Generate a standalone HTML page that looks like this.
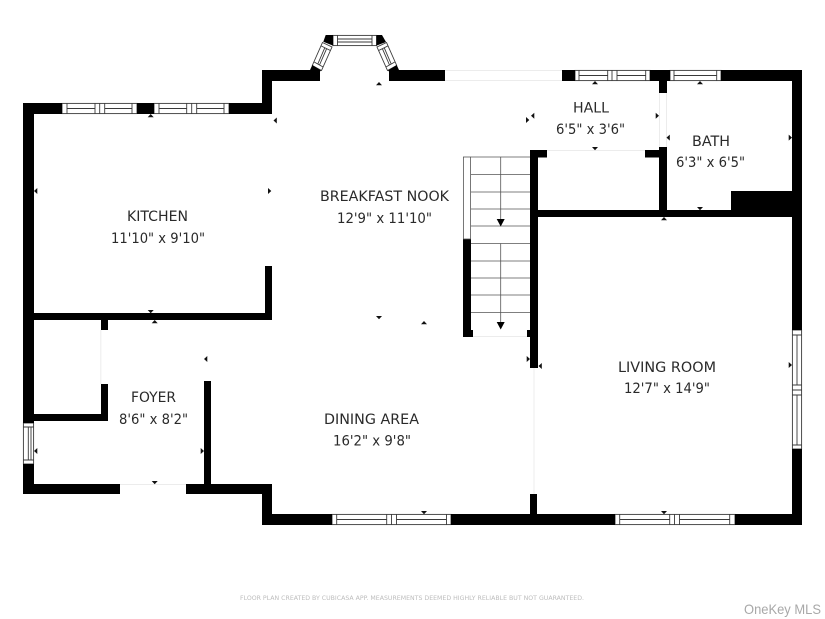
<!DOCTYPE html>
<html lang="en">
<head>
<meta charset="utf-8">
<title>Floor plan</title>
<style>
html,body{margin:0;padding:0;background:#fff;width:825px;height:619px;overflow:hidden}
svg{display:block}
text{font-family:"DejaVu Sans","Liberation Sans",sans-serif;font-size:14.5px;fill:#2a2a2a}
</style>
</head>
<body>
<svg width="825" height="619" viewBox="0 0 825 619" xmlns="http://www.w3.org/2000/svg">
<rect width="825" height="619" fill="#fff"/>

<!-- light opening lines -->
<g stroke="#ececec" stroke-width="1" fill="none">
<path d="M445 70.5H562M445 80.5H562"/>
<path d="M659.5 93V147M666.5 93V147"/>
<path d="M547 150.5H645"/>
<path d="M100.8 330V384"/>
<path d="M120 484.5H186"/>
<path d="M473 336.5H527"/>
<path d="M534 368V494"/>
</g>

<!-- windows -->
<g fill="#fff" stroke="#3a3a3a" stroke-width="0.9">
<rect x="62" y="103.4" width="75" height="10.2"/>
<rect x="154" y="103.4" width="75" height="10.2"/>
<rect x="575" y="70.4" width="75" height="10.2"/>
<rect x="670" y="70.4" width="51" height="10.2"/>
<rect x="332" y="514.4" width="119" height="10.2"/>
<rect x="615" y="514.4" width="120" height="10.2"/>
<rect x="792.4" y="330" width="9.2" height="119"/>
<rect x="23.4" y="423" width="10.2" height="41"/>
<rect x="333" y="35.4" width="43.5" height="10.2"/>
<path d="M67 103.4V113.6M95 103.4V113.6M99.7 103.4V113.6M104.7 103.4V113.6M132 103.4V113.6M67 108.5H95M104.7 108.5H132"/>
<path d="M159 103.4V113.6M186.7 103.4V113.6M191.7 103.4V113.6M196.7 103.4V113.6M224 103.4V113.6M159 108.5H186.7M196.7 108.5H224"/>
<path d="M579 70.4V80.6M607.7 70.4V80.6M612 70.4V80.6M617 70.4V80.6M645.7 70.4V80.6M579 75.5H607.7M617 75.5H645.7"/>
<path d="M674 70.4V80.6M716.7 70.4V80.6M674 75.5H716.7"/>
<path d="M336.7 514.4V524.6M386.7 514.4V524.6M391.5 514.4V524.6M396.5 514.4V524.6M446.5 514.4V524.6M336.7 519.5H386.7M396.5 519.5H446.5"/>
<path d="M619.7 514.4V524.6M669.7 514.4V524.6M674.5 514.4V524.6M679.5 514.4V524.6M729.7 514.4V524.6M619.7 519.5H669.7M679.5 519.5H729.7"/>
<path d="M792.4 335H801.6M792.4 385H801.6M792.4 390H801.6M792.4 395H801.6M792.4 445H801.6M797 335V385M797 395V445"/>
<path d="M23.4 427H33.6M23.4 460H33.6M28.3 427V460M31 427V460"/>
<path d="M337.5 35.4V45.6M372 35.4V45.6M337.5 39H372M337.5 42H372"/>
<polygon points="322.5,42.5 332,47 321.5,70.5 312.3,65.5"/>
<polygon points="386.5,42.5 377,47 387.5,70.5 396.7,65.5"/>
<path d="M321 45.9L330.4 50.5M314.2 62L323.1 67M324.8 47.7L317.8 64M326.6 48.7L319.5 65"/>
<path d="M388 45.9L378.6 50.5M394.8 62L385.9 67M384.2 47.7L391.2 64M382.4 48.7L389.5 65"/>
</g>

<!-- walls -->
<g fill="#000">
<rect x="23" y="103" width="11" height="320"/>
<rect x="23" y="103" width="39" height="11"/>
<rect x="137" y="103" width="17" height="11"/>
<rect x="229" y="103" width="43" height="11"/>
<rect x="262" y="70" width="10" height="44"/>
<rect x="262" y="70" width="48" height="11"/>
<rect x="405" y="70" width="40" height="11"/>
<rect x="562" y="70" width="13" height="11"/>
<rect x="650" y="70" width="20" height="11"/>
<rect x="721" y="70" width="81" height="11"/>
<rect x="792" y="70" width="10" height="260"/>
<rect x="792" y="449" width="10" height="76"/>
<!-- bay -->
<polygon points="305,70 310,70 312.3,65 321,70.5 320,71.5 320,81 305,81"/>
<polygon points="389,71.5 388,70.5 396.7,65 399,70 405,70 405,81 389,81"/>
<polygon points="325.7,35 333,35 333,45.6 323.3,41.7"/>
<polygon points="376.5,35 382,35 386,42 376.5,45.6"/>
<!-- kitchen bottom -->
<rect x="23" y="313" width="249" height="7"/>
<rect x="265" y="266" width="7" height="54"/>
<!-- closet -->
<rect x="101" y="320" width="7" height="10"/>
<rect x="101" y="384" width="7" height="37"/>
<rect x="34" y="414" width="74" height="7"/>
<!-- foyer -->
<rect x="23" y="464" width="11" height="30"/>
<rect x="23" y="484" width="97" height="10"/>
<rect x="186" y="484" width="86" height="10"/>
<rect x="204" y="381" width="7" height="103"/>
<rect x="262" y="484" width="10" height="41"/>
<!-- bottom -->
<rect x="262" y="514" width="70" height="11"/>
<rect x="451" y="514" width="164" height="11"/>
<rect x="735" y="514" width="67" height="11"/>
<rect x="530" y="494" width="7" height="20"/>
<!-- stair / hall -->
<rect x="530" y="150" width="8" height="218"/>
<rect x="530" y="150" width="17" height="7.5"/>
<rect x="645" y="150" width="14" height="7.5"/>
<rect x="659" y="81" width="8" height="12"/>
<rect x="659" y="147" width="8" height="64"/>
<rect x="530" y="210" width="262" height="7"/>
<rect x="731" y="191" width="61" height="20"/>
<rect x="463" y="239" width="8" height="98"/>
<rect x="463" y="330" width="10" height="7"/>
<rect x="527" y="330" width="4" height="7"/>
</g>

<!-- stairs -->
<g fill="none" stroke="#555" stroke-width="0.8">
<rect x="463.4" y="157" width="7.2" height="82" fill="#fff"/>
<path d="M471 157H530M471 174.5H530M471 192H530M471 209H530M471 226H530M471 243.5H530M471 261H530M471 278H530M471 295H530M471 312.5H530"/>
<path d="M500.7 157V220M500.7 243.5V324"/>
</g>
<path fill="#000" d="M500.7 226.5l-4 -7.5h8zM500.7 329.5l-4 -7.5h8z"/>

<!-- small arrows -->
<path fill="#111" d="
M379 82l-3 3.3h6z
M595 81l-3 3.3h6z
M700 81l-3 3.3h6z
M150.7 114l-3 3.3h6z
M154.7 320l-3 3.3h6z
M664 217l-3 3.3h6z
M424 321l-3 3.3h6z
M595 150.3l-3 -3.3h6z
M700 210.3l-3 -3.3h6z
M150.7 313.3l-3 -3.3h6z
M154.7 484.3l-3 -3.3h6z
M379 319.3l-3 -3.3h6z
M424 514.3l-3 -3.3h6z
M664 514.3l-3 -3.3h6z
M273.5 120.5l3.3 -3v6z
M531 115.7l3.3 -3v6z
M666.5 137.6l3.3 -3v6z
M34 191l3.3 -3v6z
M204 359l3.3 -3v6z
M34 451l3.3 -3v6z
M538.5 366l3.3 -3v6z
M271.3 191l-3.3 -3v6z
M529.3 120l-3.3 -3v6z
M659 115.7l-3.3 -3v6z
M792 137.6l-3.3 -3v6z
M204 451l-3.3 -3v6z
M530 359l-3.3 -3v6z
M792 365l-3.3 -3v6z"/>

<!-- labels -->
<text x="127" y="221" textLength="61" lengthAdjust="spacingAndGlyphs">KITCHEN</text>
<text x="111" y="243" textLength="94" lengthAdjust="spacingAndGlyphs">11'10" x 9'10"</text>
<text x="320" y="201" textLength="129" lengthAdjust="spacingAndGlyphs">BREAKFAST NOOK</text>
<text x="337" y="223" textLength="95" lengthAdjust="spacingAndGlyphs">12'9" x 11'10"</text>
<text x="573" y="112.5" textLength="36" lengthAdjust="spacingAndGlyphs">HALL</text>
<text x="556" y="134" textLength="69" lengthAdjust="spacingAndGlyphs">6'5" x 3'6"</text>
<text x="692" y="146" textLength="38" lengthAdjust="spacingAndGlyphs">BATH</text>
<text x="676" y="167" textLength="69" lengthAdjust="spacingAndGlyphs">6'3" x 6'5"</text>
<text x="131" y="402" textLength="45" lengthAdjust="spacingAndGlyphs">FOYER</text>
<text x="119" y="424" textLength="69" lengthAdjust="spacingAndGlyphs">8'6" x 8'2"</text>
<text x="324" y="424" textLength="95" lengthAdjust="spacingAndGlyphs">DINING AREA</text>
<text x="333" y="445.5" textLength="78" lengthAdjust="spacingAndGlyphs">16'2" x 9'8"</text>
<text x="618" y="372" textLength="98" lengthAdjust="spacingAndGlyphs">LIVING ROOM</text>
<text x="624" y="393" textLength="86" lengthAdjust="spacingAndGlyphs">12'7" x 14'9"</text>

<text x="240" y="600" textLength="344" lengthAdjust="spacingAndGlyphs" style="font-size:6.5px;fill:#bdbdbd">FLOOR PLAN CREATED BY CUBICASA APP. MEASUREMENTS DEEMED HIGHLY RELIABLE BUT NOT GUARANTEED.</text>
<text x="744" y="614" textLength="77" lengthAdjust="spacingAndGlyphs" style="font-family:'Liberation Sans',sans-serif;font-size:14px;fill:#a8a8a8">OneKey MLS</text>
</svg>
</body>
</html>
